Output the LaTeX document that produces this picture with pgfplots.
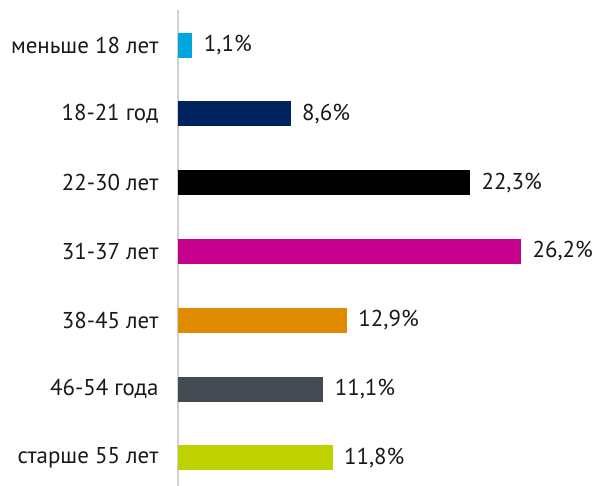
\documentclass[border=0pt]{standalone}
\usepackage{fontspec}
\setmainfont{PT Sans}
\usepackage{pgfplots}
\pgfplotsset{compat=1.18}
\definecolor{cA}{HTML}{00A6DE}
\definecolor{cB}{HTML}{00235F}
\definecolor{cC}{HTML}{000000}
\definecolor{cD}{HTML}{C4008C}
\definecolor{cE}{HTML}{E08A00}
\definecolor{cF}{HTML}{434A51}
\definecolor{cG}{HTML}{BDD200}
\begin{document}
\begin{tikzpicture}
\useasboundingbox (0,0) rectangle (597bp,486bp);
\begin{axis}[
  at={(178bp,0bp)}, anchor=south west,
  scale only axis,
  width=419bp, height=476bp,
  xmin=0, xmax=32,
  ymin=-0.51, ymax=6.41,
  y dir=reverse,
  axis x line=none,
  axis y line=left,
  axis line style={-, draw=black!18, line width=1.5bp},
  ytick={0,1,2,3,4,5,6},
  yticklabels={меньше 18 лет,18-21 год,22-30 лет,31-37 лет,38-45 лет,46-54 года,старше 55 лет},
  major tick length=0pt,
  yticklabel style={font=\fontsize{23}{27}\selectfont, text=black!90, xshift=-16bp},
  xbar, bar width=25bp, bar shift=0pt,
  point meta=explicit symbolic,
  nodes near coords,
  every node near coord/.append style={font=\fontsize{23}{27}\selectfont, text=black!90, anchor=west, xshift=8bp},
  clip=false,
]
\addplot[fill=cA, draw=none] coordinates {(1.1,0) [1,1\%]};
\addplot[fill=cB, draw=none] coordinates {(8.6,1) [8,6\%]};
\addplot[fill=cC, draw=none] coordinates {(22.3,2) [22,3\%]};
\addplot[fill=cD, draw=none] coordinates {(26.2,3) [26,2\%]};
\addplot[fill=cE, draw=none] coordinates {(12.9,4) [12,9\%]};
\addplot[fill=cF, draw=none] coordinates {(11.1,5) [11,1\%]};
\addplot[fill=cG, draw=none] coordinates {(11.8,6) [11,8\%]};
\end{axis}
\end{tikzpicture}
\end{document}
